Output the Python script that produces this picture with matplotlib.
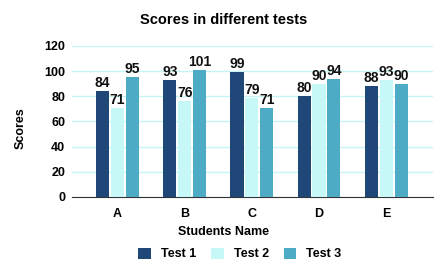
import matplotlib.pyplot as plt
import numpy as np

plt.rcParams['font.family'] = ['Liberation Sans', 'DejaVu Sans']
plt.rcParams['font.weight'] = 'bold'

students = ['A', 'B', 'C', 'D', 'E']
test1 = [84, 93, 99, 80, 88]
test2 = [71, 76, 79, 90, 93]
test3 = [95, 101, 71, 94, 90]
series = ['Test 1', 'Test 2', 'Test 3']
colors = ['#1f4778', '#c5f8f7', '#4dabc5']

fig = plt.figure(figsize=(4.47, 2.77), dpi=100)
ax = fig.add_axes([0.161, 0.289, 0.808, 0.545])

x = np.arange(len(students))
width = 0.195
step = 0.222
for i, (vals, name) in enumerate(zip([test1, test2, test3], series)):
    bars = ax.bar(x + (i - 1) * step, vals, width, color=colors[i], label=name, zorder=3)
    for b, v in zip(bars, vals):
        ax.text(b.get_x() + b.get_width() / 2, v + 0.8, str(v), ha='center', va='bottom',
                fontsize=10, fontweight='bold', color='#111111', zorder=4)

ax.set_xlim(-0.68, 4.7)
ax.set_ylim(0, 120)
ax.set_yticks(range(0, 121, 20))
ax.set_xticks(x)
ax.set_xticklabels(students)
ax.tick_params(axis='y', length=0, labelsize=9, pad=5)
ax.tick_params(axis='x', length=0, labelsize=9, pad=8)
ax.grid(axis='y', color='#c5f5f5', linewidth=1, zorder=0)
for s in ['top', 'right', 'left']:
    ax.spines[s].set_visible(False)
ax.spines['bottom'].set_color('#333333')

fig.text(0.5, 1 - 20 / 277, 'Scores in different tests', ha='center', va='center',
         fontsize=10.5, fontweight='bold')
fig.text(0.5, 1 - 232 / 277, 'Students Name', ha='center', va='center',
         fontsize=9, fontweight='bold')
fig.text(21 / 447, 1 - 128 / 277, 'Scores', ha='center', va='center', rotation=90,
         fontsize=9, fontweight='bold')

fig.legend(loc='center', bbox_to_anchor=(240 / 447, 1 - 254 / 277), ncol=3, frameon=False,
           fontsize=9, handlelength=1.0, handleheight=1.0, columnspacing=1.2)

fig.savefig('out.png', dpi=100)
